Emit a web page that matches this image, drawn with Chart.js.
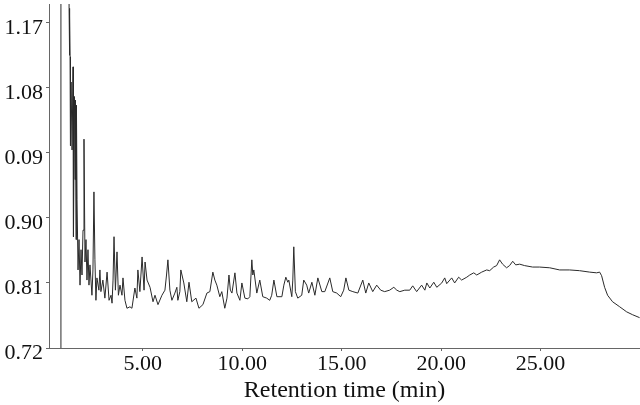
<!DOCTYPE html>
<html>
<head>
<meta charset="utf-8">
<script src="https://cdn.jsdelivr.net/npm/chart.js@4/dist/chart.umd.min.js"></script>
<style>
    html, body { margin: 0; padding: 0; background: #fff; }
    #wrap { width: 640px; height: 405px; }
</style>
</head>
<body>
<div id="wrap"><canvas id="chromChart" width="640" height="405"></canvas></div>
<script>
// retention time (min)
var times = [
    0.86, 0.88, 1.26, 1.29, 1.30, 1.31, 1.32, 1.33, 1.34, 1.36, 1.39, 1.44, 1.49, 1.51, 1.56, 1.59, 1.61, 1.64, 1.66, 1.69,
    1.74, 1.79, 1.84, 1.89, 1.94, 1.99, 2.04, 2.09, 2.14, 2.19, 2.24, 2.29, 2.34, 2.44, 2.49, 2.54, 2.59, 2.64, 2.69, 2.79,
    2.84, 2.89, 2.99, 3.09, 3.20, 3.30, 3.40, 3.45, 3.50, 3.55, 3.62, 3.70, 3.77, 3.85, 3.95, 4.00, 4.10, 4.20, 4.35, 4.45,
    4.60, 4.70, 4.75, 4.85, 4.96, 5.06, 5.11, 5.21, 5.36, 5.51, 5.61, 5.76, 5.96, 6.11, 6.19, 6.26, 6.36, 6.46, 6.61, 6.71,
    6.76, 6.86, 6.91, 7.06, 7.21, 7.32, 7.46, 7.67, 7.82, 8.02, 8.22, 8.37, 8.52, 8.62, 8.72, 8.87, 8.97, 9.12, 9.23, 9.33,
    9.40, 9.48, 9.63, 9.73, 9.88, 9.98, 10.13, 10.28, 10.38, 10.48, 10.53, 10.58, 10.73, 10.88, 11.03, 11.23, 11.38, 11.48, 11.59, 11.74,
    11.99, 12.09, 12.19, 12.29, 12.34, 12.49, 12.54, 12.59, 12.67, 12.79, 12.99, 13.09, 13.24, 13.34, 13.50, 13.65, 13.80, 14.00, 14.15, 14.40,
    14.55, 14.75, 14.95, 15.10, 15.21, 15.36, 15.56, 15.81, 16.06, 16.21, 16.36, 16.56, 16.76, 16.96, 17.16, 17.41, 17.62, 17.77, 17.92, 18.17,
    18.42, 18.57, 18.77, 19.02, 19.18, 19.28, 19.43, 19.63, 19.78, 20.03, 20.18, 20.28, 20.53, 20.68, 20.88, 21.03, 21.29, 21.44, 21.64, 21.79,
    22.04, 22.29, 22.44, 22.64, 22.79, 22.94, 23.09, 23.29, 23.44, 23.60, 23.75, 23.95, 24.20, 24.60, 24.95, 25.46, 25.96, 26.46, 26.96, 27.47,
    27.82, 27.97, 28.07, 28.22, 28.37, 28.62, 28.98, 29.33, 29.63, 29.98
];
// detector signal
var signal = [
    0.700, 1.500, 1.500, 1.190, 1.130, 1.190, 1.125, 1.180, 1.123, 1.000, 1.088, 0.994, 1.109, 0.874, 1.068, 0.953, 1.063, 0.870, 1.056, 0.925,
    0.828, 0.870, 0.807, 0.856, 0.821, 0.883, 1.009, 0.839, 0.870, 0.814, 0.856, 0.807, 0.835, 0.793, 0.828, 0.936, 0.842, 0.786, 0.817, 0.800,
    0.828, 0.798, 0.814, 0.789, 0.825, 0.786, 0.793, 0.782, 0.814, 0.874, 0.800, 0.853, 0.793, 0.807, 0.793, 0.817, 0.786, 0.775, 0.777, 0.775,
    0.803, 0.789, 0.828, 0.798, 0.846, 0.800, 0.839, 0.814, 0.804, 0.784, 0.793, 0.780, 0.793, 0.800, 0.821, 0.842, 0.800, 0.786, 0.796, 0.804,
    0.786, 0.798, 0.828, 0.810, 0.784, 0.811, 0.784, 0.789, 0.775, 0.780, 0.796, 0.798, 0.825, 0.814, 0.807, 0.791, 0.798, 0.775, 0.789, 0.821,
    0.800, 0.796, 0.824, 0.796, 0.786, 0.810, 0.789, 0.788, 0.791, 0.842, 0.821, 0.828, 0.796, 0.814, 0.791, 0.789, 0.786, 0.793, 0.814, 0.791,
    0.791, 0.807, 0.818, 0.811, 0.814, 0.791, 0.814, 0.860, 0.798, 0.789, 0.793, 0.814, 0.807, 0.796, 0.811, 0.793, 0.817, 0.798, 0.798, 0.817,
    0.798, 0.796, 0.791, 0.800, 0.817, 0.800, 0.798, 0.796, 0.814, 0.796, 0.810, 0.798, 0.807, 0.800, 0.798, 0.800, 0.804, 0.800, 0.798, 0.800,
    0.800, 0.806, 0.798, 0.807, 0.800, 0.810, 0.803, 0.811, 0.804, 0.810, 0.817, 0.809, 0.817, 0.810, 0.818, 0.814, 0.818, 0.821, 0.824, 0.821,
    0.825, 0.828, 0.827, 0.832, 0.834, 0.842, 0.836, 0.831, 0.834, 0.840, 0.835, 0.836, 0.834, 0.832, 0.832, 0.831, 0.828, 0.828, 0.827, 0.825,
    0.824, 0.825, 0.820, 0.804, 0.793, 0.784, 0.777, 0.770, 0.766, 0.762
];
var xTicks = [5, 10, 15, 20, 25];
var yTicks = [0.72, 0.81, 0.90, 0.99, 1.08, 1.17];
var yTickLabels = ["0.72", "0.81", "0.90", "0.09", "1.08", "1.17"];

var points = times.map(function(t, i) { return { x: t, y: signal[i] }; });

var axisFont = { family: "'Liberation Serif', 'Times New Roman', serif", size: 22 };

var ctx = document.getElementById("chromChart").getContext("2d");
var chromChart = new Chart(ctx, {
    type: "line",
    data: {
        datasets: [{
            data: points,
            borderColor: "#2a2a2a",
            borderWidth: 1,
            pointRadius: 0,
            tension: 0,
            fill: false
        }]
    },
    options: {
        responsive: false,
        animation: false,
        layout: { padding: { top: 4, right: 0, bottom: 0, left: 0 } },
        plugins: {
            legend: { display: false },
            tooltip: { enabled: false }
        },
        scales: {
            x: {
                type: "linear",
                min: 0.28,
                max: 30.0,
                border: { color: "#666", width: 1 },
                grid: { drawOnChartArea: false, drawTicks: true, tickLength: 3, color: "#666" },
                afterBuildTicks: function(scale) {
                    scale.ticks = xTicks.map(function(v) { return { value: v }; });
                },
                afterFit: function(scale) {
                    scale.height = 57;
                    scale.paddingLeft = 0;
                    scale.paddingRight = 0;
                },
                ticks: {
                    color: "#111",
                    font: axisFont,
                    padding: 0,
                    maxRotation: 0,
                    callback: function(value) { return Number(value).toFixed(2); }
                },
                title: {
                    display: true,
                    text: "Retention time (min)",
                    color: "#111",
                    font: { family: "'Liberation Serif', 'Times New Roman', serif", size: 24 },
                    padding: { top: 0, bottom: 0 }
                }
            },
            y: {
                type: "linear",
                min: 0.72,
                max: 1.196,
                border: { color: "#666", width: 1 },
                grid: { drawOnChartArea: false, drawTicks: true, tickLength: 3, color: "#666" },
                afterBuildTicks: function(scale) {
                    scale.ticks = yTicks.map(function(v) { return { value: v }; });
                },
                afterFit: function(scale) {
                    scale.width = 49;
                    // labels may hang over the top, keep the plot flush
                    scale.paddingTop = 0;
                    scale.paddingBottom = 0;
                },
                ticks: {
                    color: "#111",
                    font: axisFont,
                    padding: 3,
                    labelOffset: 5,
                    callback: function(value, index) { return yTickLabels[index]; }
                }
            }
        }
    }
});
</script>
</body>
</html>
